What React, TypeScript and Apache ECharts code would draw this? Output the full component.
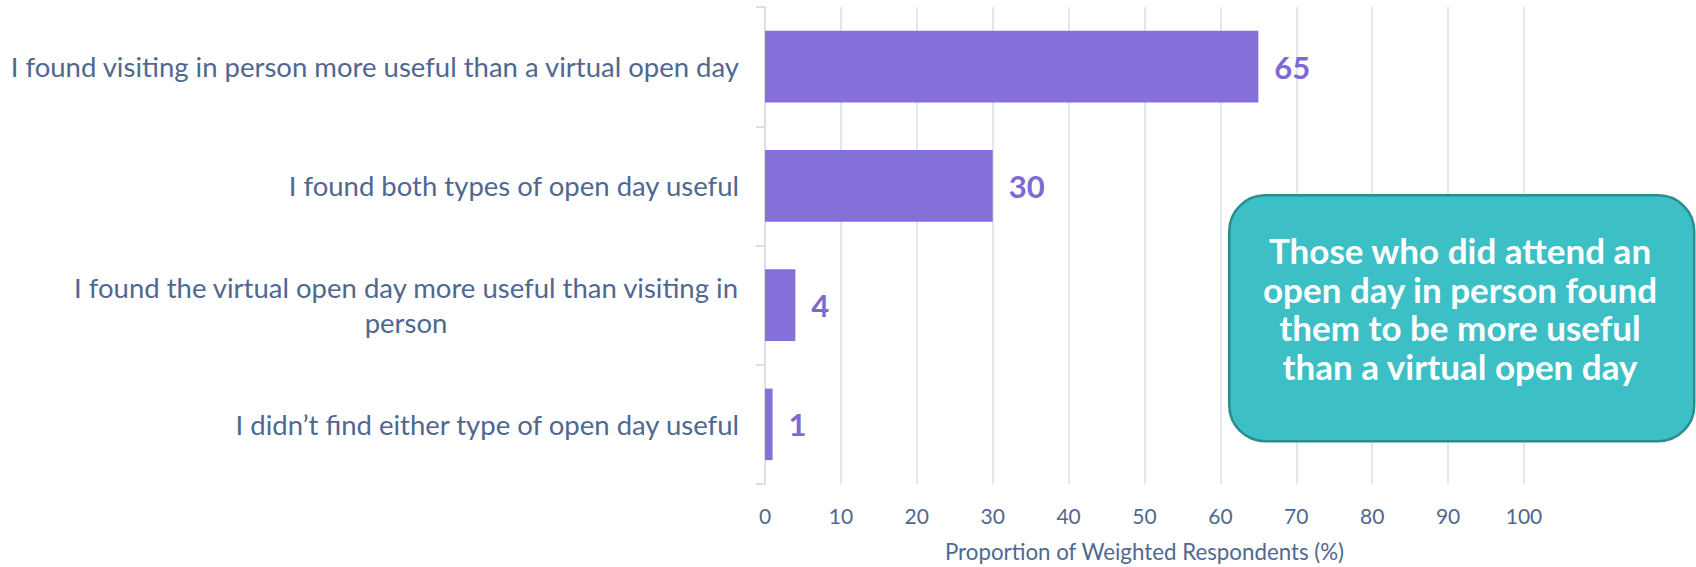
import React, { useEffect, useRef } from "react";
import * as echarts from "echarts";

const categories = [
  "I found visiting in person more useful than a virtual open day",
  "I found both types of open day useful",
  "I found the virtual open day more useful than visiting in\nperson",
  "I didn\u2019t find either type of open day useful",
];
const values = [65, 30, 4, 1];
const xTicks = [0, 10, 20, 30, 40, 50, 60, 70, 80, 90, 100];
const axisTitle = "Proportion of Weighted Respondents (%)";
const calloutLines = [
  "Those who did attend an",
  "open day in person found",
  "them to be more useful",
  "than a virtual open day",
];

const FONT = "Lato";
const TEXT_COLOR = "#506890";
const BAR_COLOR = "#8470d8";
const GRID_COLOR = "#d9dee8";

export default function App() {
  const ref = useRef<HTMLDivElement>(null);
  useEffect(() => {
    if (!ref.current) return;
    const chart = echarts.init(ref.current, null, { renderer: "svg" });
    const lineGap = 38.7;
    const centerY = 308;
    const calloutTexts = calloutLines.map((line, i) => ({
      type: "text",
      x: 1460,
      y: centerY + (i - (calloutLines.length - 1) / 2) * lineGap,
      z: 101,
      style: {
        text: line,
        fill: "#ffffff",
        font: `bold 35px ${FONT}`,
        align: "center",
        verticalAlign: "middle",
      },
    }));
    chart.setOption({
      animation: false,
      backgroundColor: "#ffffff",
      grid: { left: 765, right: 172, top: 7, bottom: 81, containLabel: false },
      xAxis: {
        type: "value",
        min: xTicks[0],
        max: xTicks[xTicks.length - 1],
        interval: 10,
        axisLine: { show: false },
        axisTick: { show: false },
        splitLine: { show: true, lineStyle: { color: GRID_COLOR, width: 1.5 } },
        axisLabel: {
          color: TEXT_COLOR,
          fontFamily: FONT,
          fontSize: 21,
          margin: 21,
        },
        name: axisTitle,
        nameLocation: "middle",
        nameGap: 56,
        nameTextStyle: {
          color: TEXT_COLOR,
          fontFamily: FONT,
          fontSize: 22.3,
          verticalAlign: "top",
        },
      },
      yAxis: {
        type: "category",
        inverse: true,
        data: categories,
        axisLine: { show: true, lineStyle: { color: GRID_COLOR, width: 2 } },
        axisTick: {
          show: true,
          length: 9,
          lineStyle: { color: GRID_COLOR, width: 2 },
        },
        axisLabel: {
          margin: 26,
          color: TEXT_COLOR,
          fontFamily: FONT,
          fontSize: 27.5,
          lineHeight: 35,
          formatter: (v: string) => {
            const lines = v.split("\n");
            if (lines.length === 1) return `{r|${v}}`;
            return lines.map((l) => `{c|${l}}`).join("\n");
          },
          rich: {
            r: {
              color: TEXT_COLOR,
              fontFamily: FONT,
              fontSize: 27.5,
              lineHeight: 35,
            },
            c: {
              color: TEXT_COLOR,
              fontFamily: FONT,
              fontSize: 27.5,
              lineHeight: 35,
              align: "center",
            },
          },
        },
        splitLine: { show: false },
      },
      series: [
        {
          type: "bar",
          data: values,
          barCategoryGap: "40%",
          itemStyle: { color: BAR_COLOR },
          label: {
            show: true,
            position: "right",
            distance: 16,
            color: "#7d68d4",
            fontFamily: FONT,
            fontWeight: "bold",
            fontSize: 31,
          },
        },
      ],
      graphic: [
        {
          type: "rect",
          left: 1228,
          top: 194,
          shape: { width: 465, height: 246, r: 36 },
          style: { fill: "#3dbfc6", stroke: "#2b8d92", lineWidth: 2.5 },
          z: 100,
        },
        ...calloutTexts,
      ],
    });
    return () => chart.dispose();
  }, []);
  return (
    <div
      ref={ref}
      style={{ position: "fixed", left: 0, top: 0, width: 1696, height: 567 }}
    />
  );
}
